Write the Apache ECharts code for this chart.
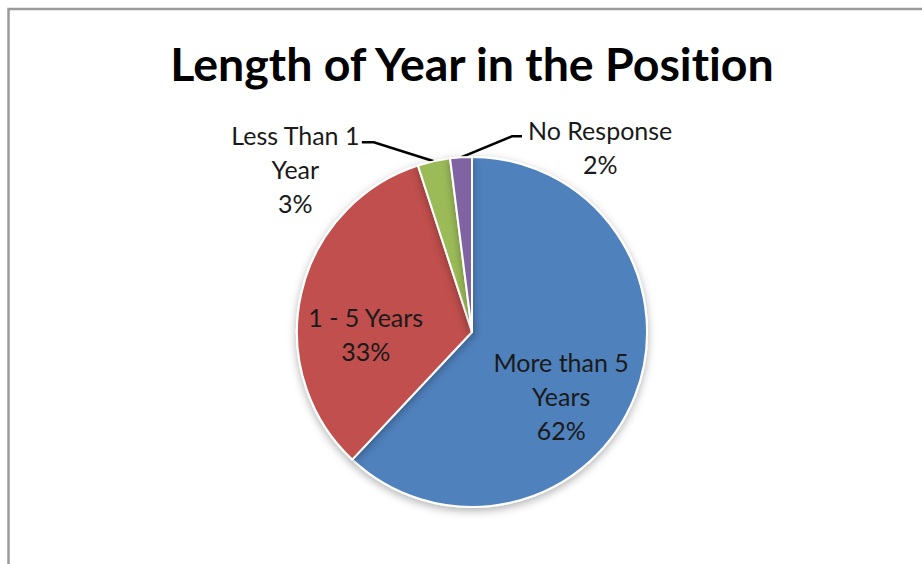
<!DOCTYPE html>
<html>
<head>
<meta charset="utf-8">
<script src="https://cdn.jsdelivr.net/npm/echarts@6/dist/echarts.min.js"></script>
<style>
html,body{margin:0;padding:0;background:#fff;}
#chart{width:922px;height:564px;}
#chart text{font-variant-ligatures:none;font-feature-settings:"liga" 0, "clig" 0;}
</style>
</head>
<body>
<div id="chart"></div>
<script>
var titleText = 'Length of Year in the Position';
var categories = ['More than 5 Years', '1 - 5 Years', 'Less Than 1 Year', 'No Response'];
var labelLines = [['More than 5', 'Years', '62%'], ['1 - 5 Years', '33%'], ['Less Than 1', 'Year', '3%'], ['No Response', '2%']];
var values = [62, 33, 3, 2];
var colors = ['#4F81BD', '#C0504D', '#9BBB59', '#8064A2'];

var FONT = 'Lato';
var FS = 25;
var LH = 34;

function fmt(p) {
  return labelLines[p.dataIndex].map(function (s) { return '{t|' + s + '}'; }).join('\n');
}

var data = categories.map(function (c, i) {
  var d = { name: c, value: values[i], itemStyle: { color: colors[i] } };
  if (i < 2) {
    d.label = { position: 'inside' };
    d.labelLine = { show: false };
  } else if (i === 2) {
    d.label = { position: 'outside', padding: [54, 2, 0, 0], backgroundColor: 'rgba(0,0,0,0)' };
    d.labelLine = { show: true, length: 15, length2: 12 };
  } else {
    d.label = { position: 'outside', padding: [22, 0, 0, 6], backgroundColor: 'rgba(0,0,0,0)' };
    d.labelLine = { show: true, length: 15, length2: 10 };
  }
  return d;
});

var chart = echarts.init(document.getElementById('chart'), null, { renderer: 'svg' });
chart.setOption({
  animation: false,
  backgroundColor: '#ffffff',
  title: {
    text: titleText,
    left: 467,
    top: 34,
    textAlign: 'center',
    textStyle: { fontFamily: FONT, fontWeight: 'bold', fontSize: 46.5, color: '#000' }
  },
  graphic: [{
    type: 'rect',
    shape: { x: 8.5, y: 9, width: 1000, height: 1000 },
    style: { fill: 'none', stroke: '#9a9a9a', lineWidth: 2.5 },
    silent: true
  }],
  series: [{
    type: 'pie',
    center: [472, 332],
    radius: [0, 175],
    startAngle: 90,
    clockwise: true,
    avoidLabelOverlap: false,
    itemStyle: {
      borderColor: '#ffffff',
      borderWidth: 2,
      shadowBlur: 8,
      shadowOffsetY: 3,
      shadowColor: 'rgba(0,0,0,0.3)'
    },
    label: {
      show: true,
      formatter: fmt,
      color: '#1a1a1a',
      fontFamily: FONT,
      fontSize: FS,
      lineHeight: LH,
      rich: { t: { fontFamily: FONT, fontSize: FS, lineHeight: LH, color: '#1a1a1a', align: 'center' } }
    },
    labelLine: { lineStyle: { color: '#000', width: 2.5 }, smooth: false },
    labelLayout: function (p) {
      var i = p.dataIndex;
      var p0 = p.labelLinePoints ? p.labelLinePoints[0] : null;
      if (i === 0) return { dx: 5, dy: 31 };
      if (i === 1) return { dx: -18, dy: 22 };
      if (i === 2) return { x: p0[0] - 72, y: p0[1] - 19, align: 'right', verticalAlign: 'middle' };
      return { x: p0[0] + 61, y: p0[1] - 21, align: 'left', verticalAlign: 'middle' };
    },
    data: data
  }]
});
</script>
</body>
</html>
